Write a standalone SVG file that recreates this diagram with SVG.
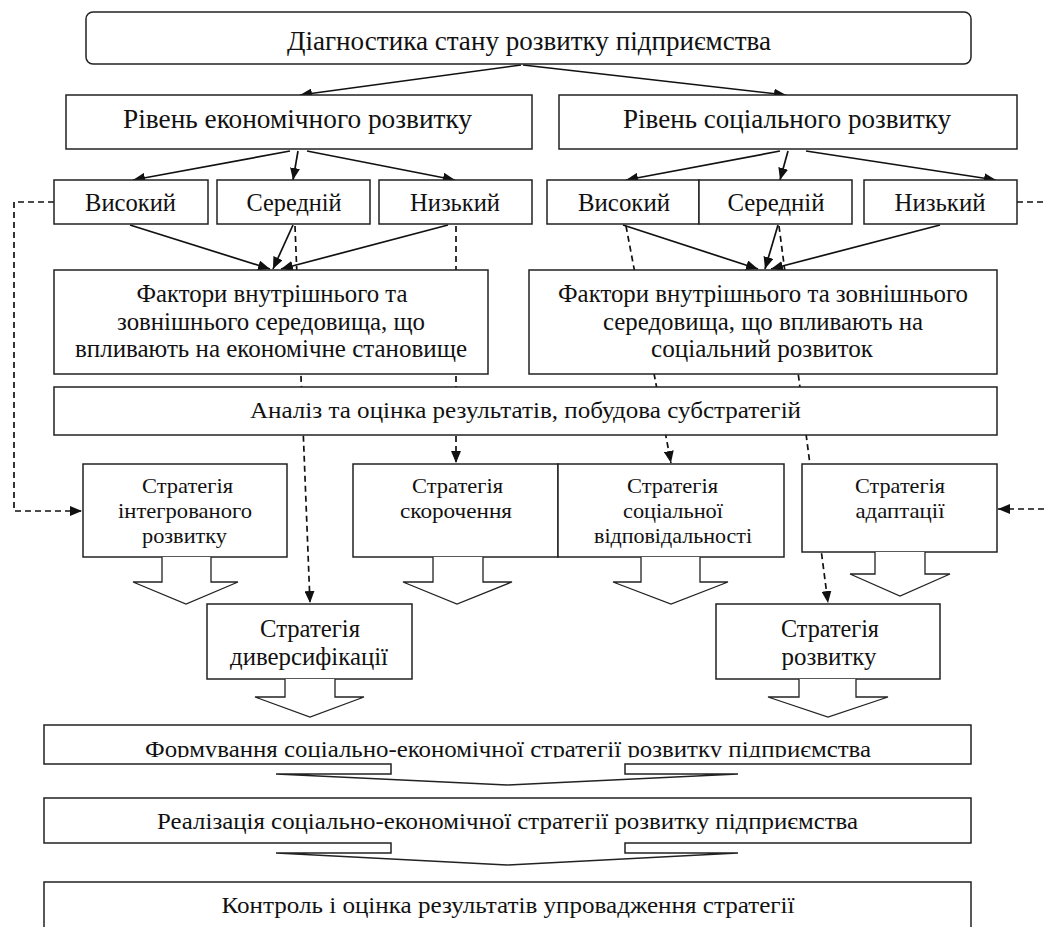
<svg xmlns="http://www.w3.org/2000/svg" width="1046" height="927" viewBox="0 0 1046 927" font-family="Liberation Serif, DejaVu Serif, serif">
<style>
.box{fill:#fff;stroke:#222;stroke-width:1.5}
.t{fill:#111;text-anchor:middle}
.f27{font-size:27px}
.f26{font-size:26px}
.f25{font-size:25px}
.f24{font-size:24px}
.f22{font-size:22px}
.sol{stroke:#111;stroke-width:1.7;fill:none;marker-end:url(#ah)}
.dasha{stroke:#111;stroke-width:1.7;stroke-dasharray:6 4;fill:none;marker-end:url(#ah)}
.blk{fill:#fff;stroke:#222;stroke-width:1.3}
</style>
<defs>
<marker id="ah" markerUnits="userSpaceOnUse" markerWidth="12" markerHeight="10" refX="12" refY="5" orient="auto">
<path d="M0,0 L12,5 L0,10 Z" fill="#111"/>
</marker>
<clipPath id="clipF"><rect x="44" y="726" width="927" height="31.5"/></clipPath>
</defs>
<rect width="1046" height="927" fill="#fff"/>

<g id="connectors">
<line class="sol" x1="521" y1="65" x2="300" y2="95"/>
<line class="sol" x1="523" y1="65" x2="786" y2="95"/>
<line class="sol" x1="290" y1="151" x2="133" y2="180"/>
<line class="sol" x1="298" y1="151" x2="293" y2="180"/>
<line class="sol" x1="307" y1="151" x2="455" y2="180"/>
<line class="sol" x1="780" y1="151" x2="626" y2="180"/>
<line class="sol" x1="788" y1="151" x2="780" y2="180"/>
<line class="sol" x1="806" y1="151" x2="996" y2="180"/>
<line class="sol" x1="130" y1="225" x2="270" y2="269"/>
<line class="sol" x1="293" y1="225" x2="273" y2="269"/>
<line class="sol" x1="448" y1="225" x2="281" y2="269"/>
<line class="sol" x1="623" y1="225" x2="758" y2="269"/>
<line class="sol" x1="778" y1="225" x2="765" y2="269"/>
<line class="sol" x1="940" y1="225" x2="771" y2="269"/>
<line class="dasha" x1="295" y1="226" x2="310" y2="603"/>
<line class="dasha" x1="456" y1="226" x2="456" y2="463"/>
<line class="dasha" x1="626" y1="226" x2="671" y2="463"/>
<line class="dasha" x1="779" y1="226" x2="828" y2="603"/>
<path class="dasha" d="M54,202 H14 V511 H82"/>
<path class="dasha" d="M1017,202 H1052 V509 H998"/>
</g>

<g id="n-diag">
<rect class="box" x="86" y="12" width="885" height="52" rx="7"/>
<text class="t f27" x="529" y="50" textLength="484" lengthAdjust="spacingAndGlyphs">Діагностика стану розвитку підприємства</text>
</g>
<g id="n-econ">
<rect class="box" x="66" y="95" width="466" height="54"/>
<text class="t f27" x="297.5" y="128" textLength="349" lengthAdjust="spacingAndGlyphs">Рівень економічного розвитку</text>
</g>
<g id="n-soc">
<rect class="box" x="559" y="95" width="458" height="54"/>
<text class="t f27" x="787" y="128" textLength="328" lengthAdjust="spacingAndGlyphs">Рівень соціального розвитку</text>
</g>
<g id="n-e-high">
<rect class="box" x="54" y="180" width="154" height="44"/>
<text class="t f26" x="130.5" y="211" textLength="91" lengthAdjust="spacingAndGlyphs">Високий</text>
</g>
<g id="n-e-mid">
<rect class="box" x="217" y="180" width="153" height="44"/>
<text class="t f26" x="294" y="211" textLength="95" lengthAdjust="spacingAndGlyphs">Середній</text>
</g>
<g id="n-e-low">
<rect class="box" x="379" y="180" width="153" height="44"/>
<text class="t f26" x="455" y="211" textLength="90" lengthAdjust="spacingAndGlyphs">Низький</text>
</g>
<g id="n-s-high">
<rect class="box" x="547" y="180" width="152" height="44"/>
<text class="t f26" x="624" y="211" textLength="92" lengthAdjust="spacingAndGlyphs">Високий</text>
</g>
<g id="n-s-mid">
<rect class="box" x="699" y="180" width="153" height="44"/>
<text class="t f26" x="776" y="211" textLength="97" lengthAdjust="spacingAndGlyphs">Середній</text>
</g>
<g id="n-s-low">
<rect class="box" x="864" y="180" width="153" height="44"/>
<text class="t f26" x="940" y="211" textLength="91" lengthAdjust="spacingAndGlyphs">Низький</text>
</g>
<g id="n-fact-econ">
<rect class="box" x="54" y="270" width="434" height="104"/>
<text class="t f25" x="272" y="302" textLength="271" lengthAdjust="spacingAndGlyphs">Фактори внутрішнього та</text>
<text class="t f25" x="271" y="330" textLength="308" lengthAdjust="spacingAndGlyphs">зовнішнього середовища, що</text>
<text class="t f25" x="271" y="357" textLength="392" lengthAdjust="spacingAndGlyphs">впливають на економічне становище</text>
</g>
<g id="n-fact-soc">
<rect class="box" x="529" y="270" width="468" height="104"/>
<text class="t f25" x="763" y="302" textLength="410" lengthAdjust="spacingAndGlyphs">Фактори внутрішнього та зовнішнього</text>
<text class="t f25" x="763" y="330" textLength="320" lengthAdjust="spacingAndGlyphs">середовища, що впливають на</text>
<text class="t f25" x="762" y="357" textLength="222" lengthAdjust="spacingAndGlyphs">соціальний розвиток</text>
</g>
<g id="n-analysis">
<rect class="box" x="54" y="387" width="943" height="48"/>
<text class="t f24" x="525.5" y="418" textLength="551" lengthAdjust="spacingAndGlyphs">Аналіз та оцінка результатів, побудова субстратегій</text>
</g>

<g id="n-s-integr">
<rect class="box" x="83" y="464" width="204" height="93"/>
<text class="t f22" x="187.5" y="493" textLength="91" lengthAdjust="spacingAndGlyphs">Стратегія</text>
<text class="t f22" x="185" y="518" textLength="134" lengthAdjust="spacingAndGlyphs">інтегрованого</text>
<text class="t f22" x="184.5" y="543" textLength="85" lengthAdjust="spacingAndGlyphs">розвитку</text>
<polyline class="blk" points="162,557 162,582 133,582 186,604 238,582 211,582 211,557"/>
</g>
<g id="n-s-reduce">
<rect class="box" x="353" y="464" width="205" height="93"/>
<text class="t f22" x="457.5" y="493" textLength="91" lengthAdjust="spacingAndGlyphs">Стратегія</text>
<text class="t f22" x="456" y="518" textLength="112" lengthAdjust="spacingAndGlyphs">скорочення</text>
<polyline class="blk" points="433,557 433,582 403,582 457,604 512,582 483,582 483,557"/>
</g>
<g id="n-s-resp">
<rect class="box" x="558" y="464" width="226" height="93"/>
<text class="t f22" x="672.5" y="493" textLength="91" lengthAdjust="spacingAndGlyphs">Стратегія</text>
<text class="t f22" x="673" y="518" textLength="100" lengthAdjust="spacingAndGlyphs">соціальної</text>
<text class="t f22" x="673" y="543" textLength="158" lengthAdjust="spacingAndGlyphs">відповідальності</text>
<polyline class="blk" points="641,557 641,582 613,582 671,604 728,582 700,582 700,557"/>
</g>
<g id="n-s-adapt">
<rect class="box" x="802" y="464" width="195" height="88"/>
<text class="t f22" x="900" y="493" textLength="90" lengthAdjust="spacingAndGlyphs">Стратегія</text>
<text class="t f22" x="900" y="518" textLength="89" lengthAdjust="spacingAndGlyphs">адаптації</text>
<polyline class="blk" points="875,552 875,574 850,574 900,596 950,574 925,574 925,552"/>
</g>
<g id="n-s-divers">
<rect class="box" x="207" y="604" width="205" height="75"/>
<text class="t f25" x="310" y="637" textLength="100" lengthAdjust="spacingAndGlyphs">Стратегія</text>
<text class="t f25" x="309" y="665" textLength="158" lengthAdjust="spacingAndGlyphs">диверсифікації</text>
<polyline class="blk" points="285,679 285,697 255,697 310,717 364,697 335,697 335,679"/>
</g>
<g id="n-s-devel">
<rect class="box" x="716" y="604" width="224" height="75"/>
<text class="t f25" x="830" y="637" textLength="98" lengthAdjust="spacingAndGlyphs">Стратегія</text>
<text class="t f25" x="829" y="665" textLength="95" lengthAdjust="spacingAndGlyphs">розвитку</text>
<polyline class="blk" points="799,679 799,697 768,697 828,717 888,697 856,697 856,679"/>
</g>

<g id="n-form">
<path class="box" d="M391,764 H44 V725 H971 V764 H625 V774 H738 L507,785 L276,774 H391 Z"/>
<text class="t f24" x="508" y="757" textLength="726" lengthAdjust="spacingAndGlyphs" clip-path="url(#clipF)">Формування соціально-економічної стратегії розвитку підприємства</text>
</g>
<g id="n-real">
<path class="box" d="M391,843 H44 V798 H971 V843 H625 V853 H738 L507,865 L276,853 H391 Z"/>
<text class="t f24" x="507.5" y="829" textLength="701" lengthAdjust="spacingAndGlyphs">Реалізація соціально-економічної стратегії розвитку підприємства</text>
</g>
<g id="n-control">
<rect class="box" x="44" y="882" width="927" height="60"/>
<text class="t f24" x="508" y="913" textLength="573" lengthAdjust="spacingAndGlyphs">Контроль і оцінка результатів упровадження стратегії</text>
</g>
</svg>
